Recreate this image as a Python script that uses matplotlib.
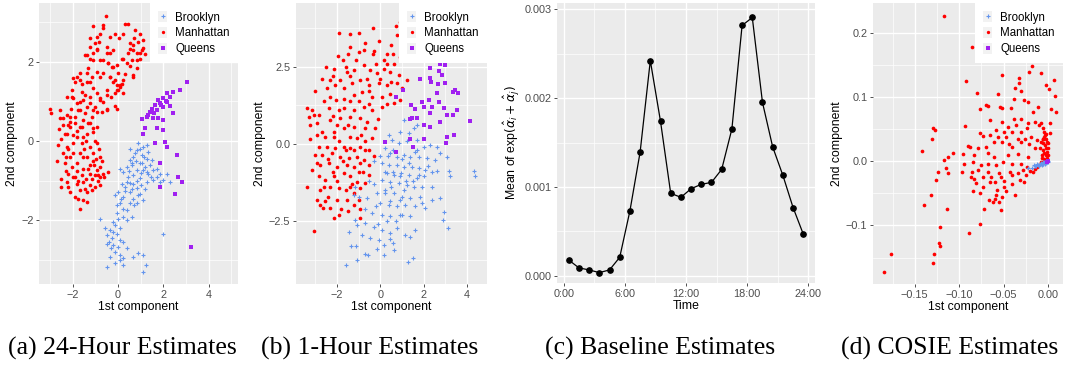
import numpy as np
import matplotlib
matplotlib.use("Agg")
import matplotlib.pyplot as plt
from matplotlib.lines import Line2D
from matplotlib.patches import Patch

plt.rcParams["font.family"] = ["Liberation Sans", "DejaVu Sans"]
plt.rcParams["mathtext.fontset"] = "dejavusans"

# ---- panel (a): 24-hour estimates ----
a_manhattan = [
    (-0.53, 3.16), (-1.09, 2.91), (-0.68, 2.92), (0.31, 2.94), (0.43, 2.94), (-0.79, 2.71), (-0.94, 2.63),
    (-0.35, 2.63), (-0.13, 2.71), (0.03, 2.59), (0.75, 2.80), (0.97, 2.71), (1.12, 2.55), (0.53, 2.46),
    (0.68, 2.29), (0.97, 2.21), (0.46, 2.21), (0.82, 2.04), (0.24, 2.08), (-1.38, 2.17), (-1.24, 2.38),
    (-0.94, 2.29), (-1.09, 2.04), (-0.79, 2.04), (-0.5, 2.21), (-0.43, 1.96), (-0.21, 1.87), (0.01, 1.71),
    (-0.13, 1.54), (0.09, 1.41), (0.24, 1.54), (-0.03, 1.29), (0.68, 1.62), (-0.35, 1.62), (-0.79, 1.62),
    (-0.5, 1.29), (-0.13, 0.88), (-0.06, 0.82), (-0.5, 0.78), (-0.79, 1.03), (-0.94, 1.2),
    (-1.97, 1.58), (-1.68, 1.54), (-1.38, 1.71), (-1.24, 1.5), (-2.04, 1.12), (-1.82, 0.95), (-1.53, 1.03),
    (-1.24, 1.12), (-1.68, 0.78), (-1.38, 0.87), (-1.09, 0.78), (-3.0, 0.82), (-2.93, 0.71), (-2.56, 0.78),
    (-2.56, 0.57), (-2.26, 0.66), (-2.12, 0.49), (-1.9, 0.61), (-1.53, 0.53), (-2.41, 0.4), (-2.12, 0.36),
    (-1.68, 0.36), (-1.24, 0.45), (-0.94, 0.36), (-2.26, 0.19), (-1.82, 0.11), (-1.38, 0.19), (-1.09, 0.24),
    (-2.63, -0.1), (-2.26, -0.14), (-1.97, -0.06), (-1.6, -0.06), (-1.24, -0.14), (-0.94, -0.06),
    (-2.41, -0.31), (-2.12, -0.39), (-1.68, -0.31), (-1.38, -0.39), (-1.09, -0.31), (-0.79, -0.39),
    (-2.34, -0.56), (-2.04, -0.65), (-1.82, -0.56), (-1.53, -0.69), (-1.24, -0.61), (-0.94, -0.73),
    (-0.79, -0.65), (-0.43, -0.79), (-2.19, -0.82), (-1.9, -0.9), (-1.6, -0.86), (-1.24, -0.82),
    (-1.03, -0.86), (-0.79, -0.9), (-0.65, -0.82), (-2.26, -1.03), (-1.82, -1.07), (-1.53, -1.03),
    (-1.24, -1.11), (-2.49, -1.15), (-2.12, -1.28), (-1.68, -1.24), (-1.38, -1.28), (-1.16, -1.24),
    (-1.9, -1.4), (-1.53, -1.49), (-1.68, -1.7), (-1.35, -1.53),
    (-1.01, 2.46), (-0.94, 2.33), (-1.09, 2.21), (-0.5, 2.38), (-0.35, 2.21), (-0.21, 2.29), (-0.65, 2.04),
    (-0.43, 1.96), (-0.28, 1.87), (-0.06, 1.91), (0.16, 2.08), (0.38, 1.96), (0.6, 2.04), (0.82, 2.21),
    (1.04, 2.29), (0.97, 2.08), (0.67, 2.42), (0.53, 2.33), (-1.45, 2.17), (-1.23, 2.08), (-1.67, 1.71),
    (-1.82, 1.62), (-1.89, 1.49), (-1.6, 1.45), (-1.38, 1.49), (-1.16, 1.62), (-0.94, 1.75), (-0.65, 1.71),
    (-0.35, 1.62), (-0.21, 1.49), (-0.06, 1.41), (0.09, 1.37), (0.01, 1.28), (0.23, 1.2), (0.16, 1.45),
    (-0.13, 1.2), (-0.5, 1.16), (-0.79, 1.08), (-0.65, 0.99), (-0.72, 0.74), (-0.5, 0.82), (0.67, 1.66),
    (-2.04, 1.28), (-2.26, 1.12), (-1.97, 1.08), (-1.67, 0.99), (-1.45, 1.16), (-1.23, 0.95), (-1.01, 0.86),
    (-0.94, 0.74), (-1.75, 0.78), (-1.45, 0.7), (-1.16, 0.61), (-2.11, 0.61), (-2.41, 0.57), (-2.19, 0.4),
    (-1.89, 0.45), (-1.6, 0.36), (-1.31, 0.45), (-1.09, 0.32), (-2.33, 0.19), (-1.97, 0.15), (-1.53, 0.11),
    (-2.2, -0.2), (-1.5, -0.2), (-1.1, -0.5), (-0.7, -0.5), (-2.0, -0.9), (-1.4, -0.95), (-0.9, -1.0),
    (-1.75, -1.45), (-2.3, -0.75), (-1.3, -0.7), (-0.85, -0.2), (-2.5, 0.05), (-1.0, -1.15),
    (0.9, 2.5), (1.1, 2.35), (0.7, 2.6), (0.2, 2.7), (1.2, 2.2), (0.55, 1.9), (0.85, 1.85), (-2.6, 0.3),
    (-2.3, -0.4), (-2.0, -0.3), (-1.8, -0.75), (-1.55, -0.4), (-1.4, 0.0), (-1.15, -0.95), (-0.95, -0.45),
    (-0.8, -1.1), (-0.6, -0.9), (-1.0, 0.0), (-1.8, 0.25), (-2.05, 0.8), (-1.6, 1.25), (-1.3, 1.85),
    (-1.1, 1.35), (-0.3, 1.1), (0.3, 1.7), (-0.85, 2.5), (-0.65, 2.85), (-1.25, 2.6), (-2.7, -0.5),
    (-2.5, -0.95), (-1.45, -1.2), (-2.2, -1.15), (-1.75, -1.0), (-0.9, -0.85), (-1.05, -0.6),
]
a_brooklyn = [
    (0.9, -0.06), (1.12, -0.14), (1.34, -0.27), (0.82, -0.23), (1.04, -0.35), (0.68, -0.39), (1.26, -0.44),
    (1.49, -0.48), (0.53, -0.48), (0.97, -0.56), (1.19, -0.65), (1.56, -0.73), (1.85, -0.82), (2.15, -0.82),
    (2.29, -1.03), (1.99, -0.98), (1.71, -0.9), (1.34, -0.82), (0.82, -0.73), (0.6, -0.61), (0.38, -0.65),
    (0.09, -0.69), (0.24, -0.77), (0.68, -0.86), (0.97, -0.94), (1.26, -1.03), (0.38, -1.03), (0.68, -1.07),
    (0.16, -1.07), (0.31, -1.15), (0.82, -1.19), (0.97, -1.32), (0.53, -1.28), (0.01, -1.28), (0.24, -1.4),
    (0.68, -1.45), (1.12, -1.49), (0.53, -1.57), (0.09, -1.57), (0.24, -1.7), (-0.13, -1.36), (-0.06, -1.82),
    (0.38, -1.74), (0.01, -1.95), (-0.21, -2.03), (-0.13, -2.12), (-0.35, -2.24), (-0.57, -2.2),
    (-0.79, -1.97), (-0.5, -2.37), (-0.28, -2.45), (-0.5, -2.58), (-0.21, -2.62), (0.01, -2.66), (0.24, -2.54),
    (0.38, -2.7), (-0.13, -2.79), (0.09, -2.87), (-0.35, -2.92), (-0.5, -3.17), (-0.13, -3.08), (0.21, -3.13),
    (0.68, -2.92), (0.9, -2.83), (1.12, -2.87), (1.23, -3.13), (1.09, -3.29), (2.0, -2.34), (0.09, -2.5),
    (-0.06, -2.33), (1.56, -0.98), (1.85, -1.03), (1.26, -0.77), (1.12, -0.73), (0.8, -0.5), (1.0, -0.8),
    (0.6, -1.2), (0.85, -1.0), (1.05, -0.55), (0.45, -0.9), (0.7, -1.6), (0.2, -1.9), (0.55, -0.2),
    (1.4, -0.6), (0.9, -1.35), (-0.3, -2.7), (0.1, -2.2), (1.3, -0.1),
    (0.75, -0.3), (1.15, -0.4), (0.95, -0.2), (1.45, -0.9), (1.7, -0.7), (0.5, -0.75), (0.3, -1.25),
    (0.85, -1.55), (0.6, -1.9), (0.15, -1.45), (-0.05, -1.6), (0.4, -2.0), (1.0, -1.1), (1.2, -1.2),
    (0.55, -1.05), (-0.4, -2.55), (0.2, -2.95), (-0.2, -2.3), (0.1, -3.0), (0.6, -0.55),
]
a_queens = [
    (3.06, 1.48), (2.74, 1.29), (2.44, 1.24), (2.15, 1.2), (2.29, 1.12), (2.0, 1.08), (1.78, 1.03),
    (2.15, 0.99), (1.85, 0.95), (1.63, 0.91), (2.0, 0.87), (1.49, 0.82), (2.29, 0.88), (2.44, 0.7),
    (1.41, 0.74), (1.71, 0.78), (1.34, 0.66), (1.56, 0.57), (1.78, 0.57), (1.26, 0.61), (1.04, 0.55),
    (2.0, 0.53), (1.19, 0.32), (1.71, 0.32), (2.0, 0.28), (1.12, 0.19), (1.63, -0.04), (2.06, -0.02),
    (2.15, -0.14), (1.85, -0.56), (2.59, -0.35), (2.66, -0.9), (2.81, -1.03), (1.85, -1.15), (2.51, -1.34),
    (3.22, -2.66), (1.9, 0.9), (2.1, 1.0), (1.6, 0.7),
]

# ---- panel (b): 1-hour estimates ----
b_manhattan = [
    (-0.34, 3.76), (0.74, 3.81), (0.92, 3.95), (1.23, 3.84), (-1.92, 3.59), (-1.42, 3.57), (-0.98, 3.59),
    (-0.69, 3.25), (-0.77, 3.03), (-0.08, 3.33), (0.31, 2.92), (0.77, 3.52), (1.05, 3.09), (1.23, 2.73),
    (0.62, 2.6), (0.15, 2.71), (-0.34, 2.92), (-1.0, 2.98), (-1.38, 3.14), (-1.97, 2.84), (-1.72, 2.73),
    (-2.15, 2.44), (-2.69, 2.09), (-2.31, 2.06), (-3.0, 1.72), (-2.46, 1.8), (-2.08, 1.9), (-1.85, 2.06),
    (-1.54, 2.33), (-1.23, 2.39), (-0.77, 2.55), (-0.46, 2.39), (-0.15, 2.28), (0.15, 2.44), (0.46, 2.33),
    (0.85, 2.23), (1.23, 2.06), (0.77, 1.96), (0.31, 1.9), (-0.08, 1.96), (-0.54, 1.9), (-0.92, 2.06),
    (-1.31, 1.96), (-1.69, 1.8), (-2.31, 1.53), (-2.03, 1.42), (-1.69, 1.47), (-1.23, 1.58), (-0.85, 1.69),
    (-0.38, 1.53), (0.08, 1.53), (0.46, 1.63), (0.92, 1.42), (0.62, 1.31), (0.08, 1.2), (-0.38, 1.1),
    (-0.77, 1.2), (-1.23, 1.1), (-1.69, 1.15), (-2.38, 1.15), (-3.38, 1.15), (-3.15, 1.1), (-3.31, 0.88),
    (-3.08, 0.94), (-2.85, 0.94), (-3.23, 0.61), (-2.92, 0.67), (-2.31, 0.77), (-1.85, 0.83), (-1.38, 0.88),
    (-0.92, 0.83), (-0.62, 0.72), (-0.23, 0.51), (-0.69, 0.51), (-1.23, 0.56), (-1.69, 0.51), (-2.15, 0.4),
    (-2.54, 0.24), (-2.15, 0.24), (-3.26, 0.15), (-1.38, 0.24), (-1.08, 0.18), (-0.69, 0.08), (-2.85, -0.09),
    (-2.46, -0.09), (-2.08, -0.14), (-1.69, -0.09), (-1.38, -0.14), (-0.92, -0.09), (-0.54, -0.19),
    (-3.0, -0.35), (-2.69, -0.35), (-2.23, -0.3), (-1.85, -0.41), (-1.46, -0.46), (-1.08, -0.41),
    (-0.77, -0.52), (-3.15, -0.84), (-2.77, -0.68), (-2.38, -0.62), (-2.0, -0.73), (-1.54, -0.68),
    (-1.23, -0.73), (-0.92, -0.62), (-0.54, -0.68), (-2.85, -1.05), (-2.54, -1.16), (-2.15, -1.05),
    (-1.69, -0.95), (-1.38, -1.05), (-1.08, -1.22), (-0.69, -1.27), (-3.38, -1.4), (-2.77, -1.48),
    (-2.31, -1.38), (-1.92, -1.43), (-1.38, -1.38), (-0.92, -1.43), (-2.92, -1.81), (-2.54, -1.86),
    (-2.0, -1.81), (-1.54, -1.81), (-1.23, -1.97), (-2.31, -2.08), (-2.65, -2.08), (-1.51, -2.18),
    (-0.95, -2.11), (-2.15, -2.4), (-3.08, -2.83), (-2.8, -1.97), (-0.92, -2.4),
    (-0.3, 3.0), (0.5, 3.2), (-1.1, 2.7), (-0.6, 2.1), (0.0, 2.1), (1.0, 1.8), (-1.6, 2.5), (-2.6, 1.4),
    (-1.9, 1.1), (-1.0, 1.4), (-0.1, 0.8), (-0.5, 1.3), (-2.7, 0.4), (-1.9, 0.1), (-1.2, -0.2),
    (-2.4, -0.5), (-1.7, -0.55), (-1.0, -0.9), (-2.0, -1.2), (-1.6, -1.5), (-2.4, -1.7), (-1.8, -2.1),
    (0.3, 2.6), (-2.2, 2.2), (-0.9, 0.3), (-1.5, 0.6), (-2.9, 0.3), (-1.2, -1.6), (-0.7, -0.2),
    (-0.2, 2.6), (0.6, 2.9), (-1.5, 2.9), (-0.5, 1.7), (0.3, 1.3), (-1.4, 1.4), (-2.2, 0.9), (-2.0, 0.6),
    (-0.4, 0.2), (-1.6, -0.2), (-2.2, -0.9), (-0.8, -0.9), (-1.3, -1.3), (-2.6, -1.4), (-1.0, -1.8),
    (-1.9, -2.3), (-2.9, -0.6), (-0.5, -1.0), (-0.3, -0.4), (-1.4, 2.2), (0.9, 2.8), (0.5, 2.0), (-2.5, 2.5),
]
b_brooklyn = [
    (1.08, 0.77), (1.54, 0.51), (1.69, 0.61), (1.31, 0.34), (0.54, 0.13), (0.85, 0.02), (1.23, 0.08),
    (1.69, 0.13), (2.0, -0.09), (2.31, -0.03), (2.77, -0.3), (3.08, -0.41), (0.23, -0.14), (0.46, -0.3),
    (0.77, -0.41), (1.08, -0.35), (1.38, -0.41), (1.77, -0.41), (2.15, -0.46), (2.54, -0.52), (-0.28, -0.54),
    (0.08, -0.62), (0.38, -0.68), (0.77, -0.68), (1.08, -0.73), (1.46, -0.73), (1.77, -0.78), (2.08, -0.84),
    (2.62, -0.89), (3.15, -0.89), (3.23, -1.05), (4.31, -0.89), (4.38, -1.05), (0.31, -0.95), (0.62, -1.0),
    (0.92, -1.05), (1.31, -1.0), (1.69, -1.11), (2.0, -1.05), (0.08, -1.16), (0.46, -1.22), (0.85, -1.27),
    (1.23, -1.32), (1.54, -1.38), (1.92, -1.38), (2.38, -1.38), (-1.23, -1.65), (-1.0, -1.7), (-0.62, -1.75),
    (-0.15, -1.59), (0.23, -1.59), (0.62, -1.59), (1.0, -1.7), (1.38, -1.75), (1.85, -1.7), (2.38, -1.81),
    (2.77, -1.75), (0.0, -1.91), (0.38, -1.97), (0.77, -2.02), (1.15, -1.97), (1.62, -2.02), (2.08, -2.08),
    (-0.38, -2.24), (0.08, -2.29), (0.46, -2.34), (1.0, -2.29), (1.38, -2.34), (2.92, -2.2), (-1.15, -2.45),
    (-1.08, -2.61), (-0.69, -2.56), (-0.31, -2.67), (0.08, -2.77), (0.46, -2.88), (0.77, -2.72),
    (1.15, -2.93), (1.62, -2.77), (2.89, -2.47), (3.11, -2.72), (-1.46, -2.86), (-0.85, -2.94),
    (-0.46, -3.04), (-0.08, -3.1), (0.46, -3.08), (1.38, -3.01), (-1.11, -3.29), (-0.15, -3.4), (0.15, -3.26),
    (0.62, -3.42), (-0.69, -3.55), (-0.58, -3.59), (-1.08, -3.74), (0.15, -3.58), (1.51, -3.69),
    (1.28, -3.82), (-1.57, -3.91), (-1.15, -1.38), (-1.35, -3.31), (0.46, -1.86),
    (0.6, -0.2), (1.0, -0.5), (1.3, -0.6), (0.2, -0.9), (0.5, -1.4), (1.1, -1.5), (-0.3, -1.3), (0.9, -1.8),
    (0.3, -2.5), (-0.2, -2.0), (1.6, -0.25), (0.95, -0.95), (0.7, -2.5), (2.2, -0.7),
    (0.4, 0.3), (0.9, 0.4), (1.7, -0.2), (2.4, -0.9), (1.9, -1.9), (0.0, -0.4), (-0.5, -1.2), (-0.1, -2.6),
    (0.9, -2.3), (1.2, -1.2), (0.6, -0.9), (0.2, -1.5), (1.5, -1.2), (-0.7, -2.1), (0.6, -3.2), (1.8, -1.0),
    (2.6, -0.1), (0.35, -0.4),
]
b_queens = [
    (2.31, 2.47), (2.77, 2.6), (3.0, 2.55), (2.69, 2.35), (1.85, 2.09), (2.31, 2.15), (2.35, 2.01),
    (2.85, 2.23), (2.65, 1.94), (3.0, 1.96), (3.46, 1.76), (3.57, 1.66), (3.34, 1.69), (2.62, 1.66),
    (1.92, 1.37), (2.23, 1.42), (2.69, 1.37), (2.38, 1.2), (2.92, 1.15), (2.0, 1.2), (1.62, 1.12),
    (2.31, 0.99), (3.08, 0.94), (3.54, 1.1), (3.34, 0.94), (1.69, 0.83), (1.46, 0.83), (2.77, 0.72),
    (2.0, 0.6), (2.31, 0.54), (4.12, 0.75), (3.38, 0.29), (3.08, 0.24), (3.05, 0.02), (2.03, 0.16),
    (0.74, -0.25), (1.49, -0.09), (0.74, 1.53), (1.03, 1.74), (1.43, 1.26), (1.35, 0.82), (0.2, 0.06),
    (1.38, 0.15),
]

# ---- panel (c): baseline estimates ----
c_hour = [0.5, 1.5, 2.5, 3.5, 4.5, 5.5, 6.5, 7.5, 8.5, 9.5, 10.5, 11.5,
          12.5, 13.5, 14.5, 15.5, 16.5, 17.5, 18.5, 19.5, 20.5, 21.5, 22.5, 23.5]
c_mean = [0.000179, 0.000090, 0.000067, 0.000037, 0.000067, 0.000209, 0.000731, 0.001392,
          0.002422, 0.001739, 0.000929, 0.000884, 0.000981, 0.001030, 0.001052, 0.001198,
          0.001653, 0.002817, 0.002907, 0.001951, 0.001451, 0.001131, 0.000769, 0.000470]

# ---- panel (d): COSIE estimates ----
d_manhattan = [
    (-0.117, 0.226), (-0.072, 0.192), (-0.086, 0.177), (-0.067, 0.159), (-0.018, 0.148), (-0.021, 0.138),
    (-0.008, 0.137), (-0.052, 0.134), (-0.092, 0.124), (-0.032, 0.129), (0.007, 0.126), (-0.032, 0.121),
    (-0.002, 0.118), (0.001, 0.112), (-0.037, 0.114), (-0.03, 0.109), (-0.08, 0.106), (-0.056, 0.104),
    (0.008, 0.101), (-0.038, 0.097), (-0.027, 0.095), (-0.022, 0.092), (-0.07, 0.088), (-0.068, 0.086),
    (-0.054, 0.085), (-0.052, 0.083), (-0.042, 0.083), (-0.011, 0.085), (0.004, 0.081), (-0.017, 0.076),
    (0.009, 0.077), (-0.077, 0.081), (-0.065, 0.064), (-0.052, 0.061), (-0.038, 0.065), (-0.03, 0.066),
    (-0.022, 0.06), (-0.015, 0.061), (-0.01, 0.056), (-0.008, 0.059), (0.002, 0.059), (-0.093, 0.055),
    (-0.045, 0.053), (-0.036, 0.056), (-0.024, 0.051), (-0.005, 0.052), (-0.058, 0.048), (-0.05, 0.046),
    (-0.041, 0.046), (-0.03, 0.046), (0.002, 0.044), (-0.129, 0.052), (-0.127, 0.048), (-0.077, 0.044),
    (-0.073, 0.039), (-0.065, 0.04), (-0.056, 0.037), (-0.047, 0.038), (-0.034, 0.035), (-0.026, 0.035),
    (-0.019, 0.038), (-0.012, 0.033), (-0.006, 0.035), (-0.004, 0.038), (-0.13, 0.034), (-0.061, 0.03),
    (-0.052, 0.03), (-0.044, 0.027), (-0.03, 0.03), (-0.021, 0.027), (-0.09, 0.024), (-0.088, 0.022),
    (-0.079, 0.02), (-0.07, 0.022), (-0.04, 0.022), (-0.015, 0.02), (-0.107, 0.013), (-0.112, 0.007),
    (-0.142, 0.016), (-0.096, 0.011), (-0.083, 0.009), (-0.068, 0.012), (-0.061, 0.007), (-0.045, 0.009),
    (-0.034, 0.011), (-0.022, 0.007), (-0.117, 0.002), (-0.094, -0.005), (-0.084, -0.001), (-0.075, -0.006),
    (-0.068, -0.004), (-0.058, -0.006), (-0.051, -0.001), (-0.04, -0.004), (-0.03, -0.004), (-0.023, -0.009),
    (-0.124, -0.017), (-0.115, -0.011), (-0.112, -0.018), (-0.097, -0.017), (-0.086, -0.017), (-0.079, -0.014),
    (-0.068, -0.017), (-0.055, -0.019), (-0.043, -0.017), (-0.034, -0.019), (-0.028, -0.014), (-0.025, -0.022),
    (-0.017, -0.017), (-0.087, -0.024), (-0.083, -0.027), (-0.073, -0.025), (-0.064, -0.024), (-0.053, -0.024),
    (-0.041, -0.022), (-0.126, -0.029), (-0.081, -0.034), (-0.065, -0.032), (-0.06, -0.032), (-0.05, -0.031),
    (-0.04, -0.035), (-0.031, -0.029), (-0.027, -0.032), (-0.05, -0.04), (-0.073, -0.04), (-0.084, -0.047),
    (-0.057, -0.045), (-0.047, -0.046), (-0.076, -0.049), (-0.058, -0.052), (-0.037, -0.052), (-0.132, -0.052),
    (-0.066, -0.06), (-0.062, -0.063), (-0.06, -0.059), (-0.055, -0.063), (-0.052, -0.055), (-0.072, -0.074),
    (-0.053, -0.076), (-0.14, -0.068), (-0.114, -0.074), (-0.077, -0.097), (-0.089, -0.111), (-0.121, -0.103),
    (-0.123, -0.127), (-0.121, -0.132), (-0.128, -0.145), (-0.177, -0.145), (-0.129, -0.159), (-0.185, -0.172),
    (-0.003, 0.040), (-0.002, 0.035), (-0.001, 0.030), (-0.003, 0.025), (-0.002, 0.020), (-0.001, 0.015),
    (-0.002, 0.010), (-0.001, 0.005), (-0.003, 0.000), (-0.006, 0.028), (-0.005, 0.018), (-0.004, 0.012),
    (-0.007, 0.005), (-0.008, -0.002), (-0.010, -0.006), (-0.012, -0.009), (-0.015, -0.012), (-0.020, -0.015),
    (-0.004, 0.045), (0.000, 0.020), (0.000, 0.010), (-0.006, 0.035), (-0.008, 0.030), (-0.009, 0.020),
    (-0.007, 0.010), (-0.004, 0.003), (0.000, 0.028), (-0.002, 0.042),
]
d_brooklyn = [
    (-0.022, -0.011), (-0.018, -0.010), (-0.015, -0.008), (-0.013, -0.007), (-0.011, -0.006), (-0.009, -0.005),
    (-0.008, -0.003), (-0.006, -0.004), (-0.005, -0.002), (-0.004, -0.001), (-0.003, -0.002), (-0.002, 0.000),
    (-0.001, -0.001), (0.000, 0.000), (-0.007, -0.006), (-0.012, -0.004), (-0.016, -0.006), (-0.010, -0.008),
    (-0.003, -0.004), (-0.001, 0.001), (-0.005, -0.005), (-0.002, -0.003), (0.000, -0.002),
]
d_queens = [(-0.001, -0.001), (0.000, 0.001)]

# ticks / labels
ab_xticks = [-2, 0, 2, 4]
ab_xlabels = ["\u22122", "0", "2", "4"]
a_yticks = [-2, 0, 2]
a_ylabels = ["\u22122", "0", "2"]
b_yticks = [-2.5, 0.0, 2.5]
b_ylabels = ["\u22122.5", "0.0", "2.5"]
c_xticks = [0, 6, 12, 18, 24]
c_xlabels = ["0:00", "6:00", "12:00", "18:00", "24:00"]
c_yticks = [0, 0.001, 0.002, 0.003]
c_ylabels = ["0.000", "0.001", "0.002", "0.003"]
d_xticks = [-0.15, -0.10, -0.05, 0.00]
d_xlabels = ["\u22120.15", "\u22120.10", "\u22120.05", "0.00"]
d_yticks = [-0.1, 0.0, 0.1, 0.2]
d_ylabels = ["\u22120.1", "0.0", "0.1", "0.2"]
captions = ["(a) 24-Hour Estimates", "(b) 1-Hour Estimates", "(c) Baseline Estimates", "(d) COSIE Estimates"]

BLUE = "#6495ED"
RED = "#FF0000"
PURPLE = "#A020F0"
PANEL = "#EBEBEB"


def ggplot_axes(ax, xticks, xlabels, yticks, ylabels, xminor, yminor):
    ax.set_facecolor(PANEL)
    for s in ax.spines.values():
        s.set_visible(False)
    ax.set_xticks(xticks)
    ax.set_xticklabels(xlabels)
    ax.set_yticks(yticks)
    ax.set_yticklabels(ylabels)
    ax.set_xticks(xminor, minor=True)
    ax.set_yticks(yminor, minor=True)
    ax.grid(True, which="major", color="white", linewidth=1.0)
    ax.grid(True, which="minor", color="white", linewidth=0.5)
    ax.set_axisbelow(True)
    ax.tick_params(which="major", length=2.5, width=0.6, color="#333333",
                   labelcolor="#4D4D4D", labelsize=7.8, pad=1.5)
    ax.tick_params(which="minor", length=0)


def scatter_panel(ax, brooklyn, manhattan, queens):
    bx, by = np.array(brooklyn).T
    mx, my = np.array(manhattan).T
    qx, qy = np.array(queens).T
    ax.scatter(mx, my, s=7, color=RED, linewidths=0, zorder=3)
    ax.scatter(bx, by, s=6, marker="+", color=BLUE, linewidths=0.8, zorder=3)
    ax.scatter(qx, qy, s=8, marker="s", color=PURPLE, linewidths=0, zorder=3)
    key = "#F2F2F2"
    handles = [
        (Patch(facecolor=key, edgecolor="none"), Line2D([], [], ls="none", marker="+", ms=2.5, mew=0.8, color=BLUE)),
        (Patch(facecolor=key, edgecolor="none"), Line2D([], [], ls="none", marker="o", ms=2.4, mew=0, color=RED)),
        (Patch(facecolor=key, edgecolor="none"), Line2D([], [], ls="none", marker="s", ms=2.7, mew=0, color=PURPLE)),
    ]
    leg = ax.legend(handles, ["Brooklyn", "Manhattan", "Queens"], loc="upper right",
                    bbox_to_anchor=(1, 1), borderaxespad=0, frameon=True, fancybox=False,
                    facecolor="white", edgecolor="none", framealpha=1, fontsize=8.3,
                    handlelength=0.8, handleheight=1.1, handletextpad=0.7, labelspacing=0.3,
                    borderpad=0.7)
    leg.set_zorder(5)
    ax.set_xlabel("1st component", fontsize=8.8, labelpad=1)
    ax.set_ylabel("2nd component", fontsize=8.8, labelpad=2)


fig = plt.figure(figsize=(10.65, 3.66), dpi=100)
H = 366.0
W = 1065.0


def add_axes(left, right, top, bottom):
    return fig.add_axes([left / W, 1 - bottom / H, (right - left) / W, (bottom - top) / H])


ax_a = add_axes(39, 238, 3, 284)
ax_b = add_axes(296, 487, 3, 284)
ax_c = add_axes(557, 815, 3, 283)
ax_d = add_axes(873, 1063, 3, 284)

# (a)
scatter_panel(ax_a, a_brooklyn, a_manhattan, a_queens)
ggplot_axes(ax_a, ab_xticks, ab_xlabels, a_yticks, a_ylabels, [-3, -1, 1, 3, 5], [-3, -1, 1, 3])
ax_a.set_xlim(-3.48, 5.29)
ax_a.set_ylim(-3.6, 3.48)

# (b)
scatter_panel(ax_b, b_brooklyn, b_manhattan, b_queens)
ggplot_axes(ax_b, ab_xticks, ab_xlabels, b_yticks, b_ylabels, [-3, -1, 1, 3], [-3.75, -1.25, 1.25, 3.75])
ax_b.set_xlim(-3.89, 4.92)
ax_b.set_ylim(-4.53, 4.56)

# (c)
ax_c.plot(c_hour, c_mean, color="black", linewidth=0.9, marker="o", markersize=3.8, zorder=3)
ggplot_axes(ax_c, c_xticks, c_xlabels, c_yticks, c_ylabels, [3, 9, 15, 21], [0.0005, 0.0015, 0.0025])
ax_c.set_xlim(-0.65, 24.65)
ax_c.set_ylim(-0.00008, 0.00307)
ax_c.set_xlabel("Time", fontsize=8.8, labelpad=1)
ax_c.set_ylabel(r"Mean of exp$(\hat{\alpha}_i+\hat{\alpha}_j)$", fontsize=8.8, labelpad=2)

# (d)
scatter_panel(ax_d, d_brooklyn, d_manhattan, d_queens)
ggplot_axes(ax_d, d_xticks, d_xlabels, d_yticks, d_ylabels, [-0.175, -0.125, -0.075, -0.025],
            [-0.15, -0.05, 0.05, 0.15])
ax_d.set_xlim(-0.197, 0.017)
ax_d.set_ylim(-0.191, 0.246)

for cx, text in zip([122, 370, 660, 950], captions):
    fig.text(cx / W, 1 - 348 / H, text, ha="center", va="center",
             fontfamily="Liberation Serif", fontsize=18.5)

fig.savefig("out.png", dpi=100)
